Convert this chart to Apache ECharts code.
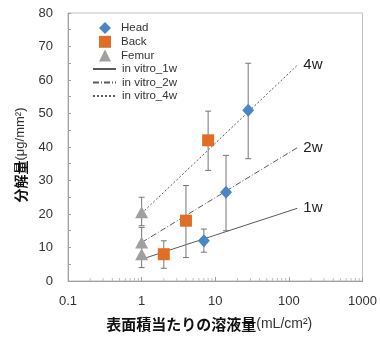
<!DOCTYPE html>
<html><head><meta charset="utf-8">
<script src="https://cdn.jsdelivr.net/npm/echarts@6/dist/echarts.min.js"></script>
<style>html,body{margin:0;padding:0;background:#fff}#c{width:380px;height:337px}</style>
</head><body><div id="c"></div>
<script>
// Data
const headX = [7, 14, 28];
const headY = [12, 26.5, 51];
const headLow = [8.6, 15, 36.5];
const headHigh = [15.5, 37.5, 65];

const backX = [2, 4, 8];
const backY = [8, 18, 42];
const backLow = [3.8, 7, 33];
const backHigh = [12, 28.5, 50.7];

const femurX = [1, 1, 1];
const femurY = [20.5, 11.5, 8];
const femurLow = [16.5, 7.5, 4];
const femurHigh = [25, 16, 11.5];

const lineX = [1, 130];
const vitro1w = [6.5, 21.7];
const vitro2w = [11.5, 39.8];
const vitro4w = [20.2, 64.4];

const xTickLabels = ['0.1', '1', '10', '100', '1000'];
const minorTickX = [];
[0.1, 1, 10, 100].forEach(d => { for (let k = 2; k <= 9; k++) minorTickX.push(+(d * k).toPrecision(3)); });

const FONT = '"Liberation Sans", Arial, sans-serif';
const zip = (xs, ys) => xs.map((x, i) => [x, ys[i]]);
const errData = (xs, lo, hi) => xs.map((x, i) => [x, lo[i], hi[i]]);

function errRender(params, api) {
  const x = api.value(0);
  const p1 = api.coord([x, api.value(1)]);
  const p2 = api.coord([x, api.value(2)]);
  const w = 3;
  const st = { stroke: '#767676', lineWidth: 1 };
  return { type: 'group', children: [
    { type: 'line', shape: { x1: p1[0], y1: p1[1], x2: p2[0], y2: p2[1] }, style: st },
    { type: 'line', shape: { x1: p1[0] - w, y1: p1[1], x2: p1[0] + w, y2: p1[1] }, style: st },
    { type: 'line', shape: { x1: p2[0] - w, y1: p2[1], x2: p2[0] + w, y2: p2[1] }, style: st }
  ]};
}
function minorRender(params, api) {
  const p = api.coord([api.value(0), 0]);
  return { type: 'line', shape: { x1: p[0], y1: p[1], x2: p[0], y2: p[1] - 3 }, style: { stroke: '#bfbfbf', lineWidth: 1 } };
}

const chart = echarts.init(document.getElementById('c'), null, { renderer: 'canvas' });
const lineColor = '#595959';
const mkLine = (name, data, type) => ({
  name, type: 'line', data: zip(lineX, data), symbol: 'none', z: 3,
  lineStyle: { color: lineColor, width: 1, type },
  itemStyle: { color: lineColor },
  endLabel: { show: true, formatter: name.replace('in vitro_', ''), fontSize: 15, color: '#222', fontFamily: FONT, distance: 6 },
  emphasis: { disabled: true }
});
const legendText = { fontSize: 11.5, color: '#333', fontFamily: FONT };

chart.setOption({
  animation: false,
  grid: { left: 68, right: 15, top: 13, bottom: 48, show: true, borderColor: '#bfbfbf', borderWidth: 1 },
  legend: [{
    orient: 'vertical', left: 99, top: 22, padding: 0, itemWidth: 12, itemHeight: 12, itemGap: 1.8,
    textStyle: Object.assign({ padding: [0, 0, 0, 5] }, legendText),
    data: [
      { name: 'Head', icon: 'diamond' },
      { name: 'Back', icon: 'rect' },
      { name: 'Femur', icon: 'triangle' }
    ]
  }, {
    orient: 'vertical', left: 92, top: 63, padding: 0, itemWidth: 23, itemHeight: 10, itemGap: 1.5,
    textStyle: Object.assign({ padding: [0, 0, 0, 1] }, legendText),
    data: [
      { name: 'in vitro_1w', itemStyle: { opacity: 0 } },
      { name: 'in vitro_2w', itemStyle: { opacity: 0 } },
      { name: 'in vitro_4w', itemStyle: { opacity: 0 } }
    ]
  }],
  xAxis: {
    type: 'log', logBase: 10, min: 0.1, max: 1000,
    axisLine: { lineStyle: { color: '#a0a0a0' } },
    axisTick: { inside: true, length: 4, lineStyle: { color: '#a0a0a0' } },
    splitLine: { show: false },
    axisLabel: { fontSize: 13, color: '#333', fontFamily: FONT, margin: 14,
      formatter: (v) => { const i = Math.round(Math.log10(v)) + 1; return xTickLabels[i] ?? v; } },
    name: '{b|表面積当たりの溶液量}{n|(mL/cm²)}', nameLocation: 'middle', nameGap: 36,
    nameTextStyle: { padding: [0, 12, 0, 0], rich: {
      b: { fontSize: 15, fontWeight: 'bold', fontFamily: '"Noto Sans CJK JP"', color: '#111' },
      n: { fontSize: 14, fontFamily: FONT, color: '#333' } } }
  },
  yAxis: {
    type: 'value', min: 0, max: 80, interval: 10,
    axisLine: { show: true, lineStyle: { color: '#a0a0a0' } },
    axisTick: { show: true, inside: true, length: 3, lineStyle: { color: '#a0a0a0' } },
    minorTick: { show: true, splitNumber: 2, length: 3, lineStyle: { color: '#a0a0a0' } },
    splitLine: { show: false },
    axisLabel: { fontSize: 13, color: '#333', fontFamily: FONT, margin: 15 },
    name: '{b|分解量}{n|(μg/mm²)}', nameLocation: 'middle', nameRotate: 90, nameGap: 40,
    nameTextStyle: { padding: [0, 16, 0, 0], rich: {
      b: { fontSize: 14, fontWeight: 'bold', fontFamily: '"Noto Sans CJK JP"', color: '#111' },
      n: { fontSize: 13, fontFamily: FONT, color: '#333' } } }
  },
  series: [
    { type: 'custom', renderItem: minorRender, data: minorTickX.map(v => [v]), silent: true, z: 1 },
    mkLine('in vitro_1w', vitro1w, 'solid'),
    mkLine('in vitro_2w', vitro2w, [6, 2, 1, 2]),
    mkLine('in vitro_4w', vitro4w, [2, 2]),
    { type: 'custom', renderItem: errRender, data: errData(headX, headLow, headHigh), z: 4, silent: true },
    { type: 'custom', renderItem: errRender, data: errData(backX, backLow, backHigh), z: 4, silent: true },
    { type: 'custom', renderItem: errRender, data: errData(femurX, femurLow, femurHigh), z: 4, silent: true },
    { name: 'Head', type: 'scatter', symbol: 'diamond', symbolSize: [12, 13], data: zip(headX, headY), itemStyle: { color: '#4a85c4', opacity: 1 }, z: 5 },
    { name: 'Back', type: 'scatter', symbol: 'rect', symbolSize: 12, data: zip(backX, backY), itemStyle: { color: '#e06e27', opacity: 1 }, z: 5 },
    { name: 'Femur', type: 'scatter', symbol: 'triangle', symbolSize: [13, 12], data: zip(femurX, femurY), itemStyle: { color: '#a0a0a0', opacity: 1 }, z: 5 }
  ]
});
</script></body></html>
